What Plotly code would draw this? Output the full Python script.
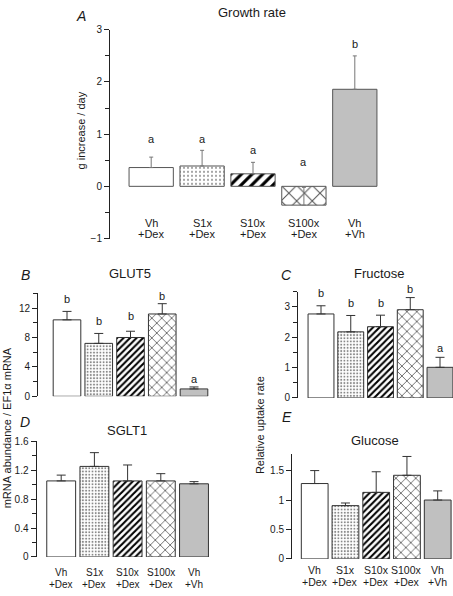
import plotly.graph_objects as go

# ---------------- data ----------------
cat_top = ["Vh", "S1x", "S10x", "S100x", "Vh"]
cat_bot = ["+Dex", "+Dex", "+Dex", "+Dex", "+Vh"]

growth = [0.36, 0.39, 0.24, -0.36, 1.86]
growth_err = [0.20, 0.30, 0.22, 0.34, 0.64]
growth_sig = ["a", "a", "a", "a", "b"]
growth_sig_y = [0.91, 0.91, 0.69, 0.46, 2.72]

glut5 = [10.4, 7.2, 8.0, 11.2, 1.0]
glut5_err = [1.15, 1.35, 0.85, 1.4, 0.27]
glut5_sig = ["b", "b", "b", "b", "a"]
glut5_sig_y = [13.2, 10.3, 10.95, 13.65, 2.4]

fructose = [2.77, 2.18, 2.35, 2.91, 1.01]
fructose_err = [0.27, 0.54, 0.38, 0.40, 0.33]
fructose_sig = ["b", "b", "b", "b", "a"]
fructose_sig_y = [3.45, 3.12, 3.12, 3.59, 1.64]

sglt1 = [1.05, 1.25, 1.05, 1.05, 1.01]
sglt1_err = [0.08, 0.19, 0.22, 0.10, 0.03]

glucose = [1.28, 0.905, 1.13, 1.42, 1.0]
glucose_err = [0.22, 0.045, 0.35, 0.32, 0.155]

# ---------------- layout helpers ----------------
W, H = 453, 596
FONT = "Arial, Liberation Sans, sans-serif"
TXT = "#1a1a1a"

def xp(px):
    return px / W

def yp(py):
    return 1 - py / H

fig = go.Figure()
idx = list(range(len(cat_top)))

panels = [
    dict(k="", v=growth, e=growth_err, ax=110, c0=151.2, sp=50.9, right=395, ytop=24.3, ybot=237.3,
         yr=[-1, 3], dt=1, mn=0.5, big=True),
    dict(k="2", v=glut5, e=glut5_err, ax=38, c0=67, sp=31.75, right=213, ytop=293.3, ybot=398.3,
         yr=[0, 14], dt=4, mn=2, big=False),
    dict(k="3", v=fructose, e=fructose_err, ax=298, c0=321, sp=29.75, right=453, ytop=291.7, ybot=400,
         yr=[0, 3.5], dt=1, mn=0.5, big=False),
    dict(k="4", v=sglt1, e=sglt1_err, ax=36.5, c0=61.2, sp=33.2, right=214, ytop=444, ybot=562.3,
         yr=[0, 1.6], dt=0.4, mn=0.2, big=False),
    dict(k="5", v=glucose, e=glucose_err, ax=292, c0=314.7, sp=30.75, right=453, ytop=456.7, ybot=564.3,
         yr=[0, 1.79], dt=0.5, mn=None, big=False),
]

fills = ["white", "white", "white", "white", "#c0c0c0"]
shapes = ["", ".", "/", "x", ""]
fgcols = ["#000000", "#8a8a8a", "#000000", "#555555", "#000000"]

for p in panels:
    k = p["k"]
    big = p["big"]
    if big:
        psize = [8, 4, 7.5, 11, 8]
        psol = [0.2, 0.2, 0.42, 0.18, 0.2]
        edge = "#555555"
        ecol = "#777777"
        capw = 2
    else:
        psize = [8, 3.2, 4.6, 7, 8]
        psol = [0.2, 0.3, 0.45, 0.22, 0.2]
        edge = "#333333"
        ecol = "#333333"
        capw = 4.5
    for i in idx:
        mk = dict(color=fills[i], line=dict(color=edge, width=1))
        if shapes[i]:
            mk["pattern"] = dict(shape=shapes[i], fgcolor=fgcols[i], bgcolor=fills[i],
                                 size=psize[i], solidity=psol[i], fillmode="replace")
        fig.add_trace(go.Bar(
            x=[idx[i]], y=[p["v"][i]],
            width=0.87,
            xaxis="x" + k, yaxis="y" + k,
            marker=mk,
            error_y=dict(type="data", symmetric=False, array=[p["e"][i]], arrayminus=[0],
                         color=ecol, thickness=1, width=capw),
            showlegend=False,
            hoverinfo="skip",
        ))
    lo = (p["ax"] - p["c0"]) / p["sp"]
    hi = (p["right"] - p["c0"]) / p["sp"]
    xa = dict(domain=[xp(p["ax"]), min(1.0, xp(p["right"]))], range=[lo, hi],
              visible=False, anchor="y" + k, fixedrange=True)
    ya = dict(domain=[yp(p["ybot"]), yp(p["ytop"])], range=p["yr"], anchor="x" + k,
              showline=True, linecolor="#222", linewidth=1, ticks="outside", ticklen=5,
              tickwidth=1, tickcolor="#222", dtick=p["dt"], tick0=0, zeroline=False,
              showgrid=False, tickfont=dict(family=FONT, size=10, color=TXT),
              fixedrange=True)
    if p["mn"]:
        ya["minor"] = dict(dtick=p["mn"], tick0=0, ticks="outside", ticklen=4,
                           tickcolor="#222", showgrid=False)
    fig.layout["xaxis" + k] = xa
    fig.layout["yaxis" + k] = ya

ann = []

def text(x, y, s, size, xref="paper", yref="paper", italic=False, angle=0, xanchor="center", yanchor="middle"):
    ann.append(dict(x=x, y=y, text=("<i>%s</i>" % s) if italic else s, xref=xref, yref=yref,
                    showarrow=False, textangle=angle, xanchor=xanchor, yanchor=yanchor,
                    font=dict(family=FONT, size=size, color=TXT)))

# titles and panel letters
text(xp(252), yp(6.5), "Growth rate", 13)
text(xp(81), yp(10), "A", 14, italic=True)
text(xp(130), yp(272.7), "GLUT5", 13)
text(xp(25), yp(274.3), "B", 14, italic=True)
text(xp(379), yp(273.3), "Fructose", 13)
text(xp(286), yp(274.3), "C", 14, italic=True)
text(xp(126.7), yp(433.3), "SGLT1", 13)
text(xp(25), yp(425), "D", 14, italic=True)
text(xp(375), yp(443.3), "Glucose", 13)
text(xp(287), yp(419.3), "E", 14, italic=True)

# axis titles
text(xp(81), yp(127), "g increase / day", 11, angle=-90)
text(xp(7), yp(431), "mRNA abundance / EF1\u03b1 mRNA", 11, angle=-90)
text(xp(260.7), yp(428), "Relative uptake rate", 11, angle=-90)

# significance letters (placed in paper coords so values above the axis top still show)
pmap = {p["k"]: p for p in panels}
for sig, sy, k in [(growth_sig, growth_sig_y, ""), (glut5_sig, glut5_sig_y, "2"),
                   (fructose_sig, fructose_sig_y, "3")]:
    p = pmap[k]
    y0, y1 = p["yr"]
    d0, d1 = yp(p["ybot"]), yp(p["ytop"])
    for i, (s, y) in enumerate(zip(sig, sy)):
        text(i, d0 + (y - y0) / (y1 - y0) * (d1 - d0), s, 11, xref="x" + k)

# category labels
for i in idx:
    text(i, -0.70, cat_top[i], 11, xref="x", yref="y")
    text(i, -0.92, cat_bot[i], 11, xref="x", yref="y")
    text(i, yp(578), cat_top[i], 10, xref="x4")
    text(i, yp(590.7), cat_bot[i], 10, xref="x4")
    text(i, yp(575.7), cat_top[i], 10.5, xref="x5")
    text(i, yp(588), cat_bot[i], 10.5, xref="x5")

fig.update_layout(
    width=W, height=H,
    margin=dict(l=0, r=0, t=0, b=0),
    paper_bgcolor="white", plot_bgcolor="white",
    annotations=ann,
    barmode="overlay",
    font=dict(family=FONT, color=TXT),
)

fig.write_html("out.html", config={"displayModeBar": False},
               post_script="document.body.style.margin='0';document.body.style.overflow='hidden';")
